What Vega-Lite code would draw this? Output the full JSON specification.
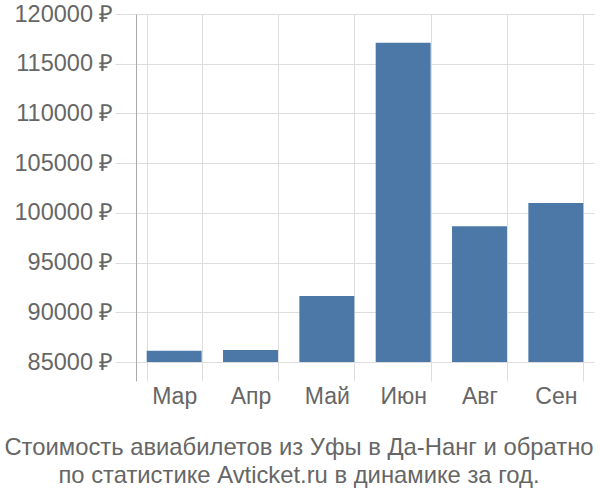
{
  "$schema": "https://vega.github.io/schema/vega-lite/v6.json",
  "width": 458,
  "height": 367,
  "autosize": "none",
  "padding": {"left": 136, "top": 14, "right": 6, "bottom": 119},
  "background": "white",
  "config": {
    "font": "Liberation Sans",
    "view": {"stroke": null}
  },
  "title": {
    "text": ["Стоимость авиабилетов из Уфы в Да-Нанг и обратно", "по статистике Avticket.ru в динамике за год."],
    "orient": "bottom",
    "anchor": "middle",
    "fontSize": 23.8,
    "fontWeight": "normal",
    "color": "#666666",
    "lineHeight": 28,
    "offset": 28,
    "dx": -66
  },
  "data": {
    "values": [
      {"month": "Мар", "price": 86140},
      {"month": "Апр", "price": 86200},
      {"month": "Май", "price": 91640},
      {"month": "Июн", "price": 117120},
      {"month": "Авг", "price": 98650},
      {"month": "Сен", "price": 101000}
    ]
  },
  "mark": {"type": "bar", "color": "#4c78a8"},
  "encoding": {
    "x": {
      "field": "month",
      "type": "nominal",
      "sort": null,
      "title": null,
      "scale": {"paddingInner": 0.28, "paddingOuter": 0.14},
      "axis": {
        "grid": true,
        "gridColor": "#dddddd",
        "tickBand": "extent",
        "ticks": false,
        "domain": false,
        "labelAngle": 0,
        "labelFontSize": 23,
        "labelColor": "#666666",
        "labelPadding": 4
      }
    },
    "y": {
      "field": "price",
      "type": "quantitative",
      "title": null,
      "scale": {"domain": [83090, 120000], "nice": false, "zero": false},
      "axis": {
        "values": [85000, 90000, 95000, 100000, 105000, 110000, 115000, 120000],
        "labelExpr": "datum.value + ' ₽'",
        "grid": true,
        "gridColor": "#dddddd",
        "tickColor": "#dddddd",
        "tickSize": 21,
        "domainColor": "#aaaaaa",
        "labelFontSize": 23.5,
        "labelColor": "#666666",
        "labelPadding": 2
      }
    },
    "y2": {"datum": 85000}
  }
}
